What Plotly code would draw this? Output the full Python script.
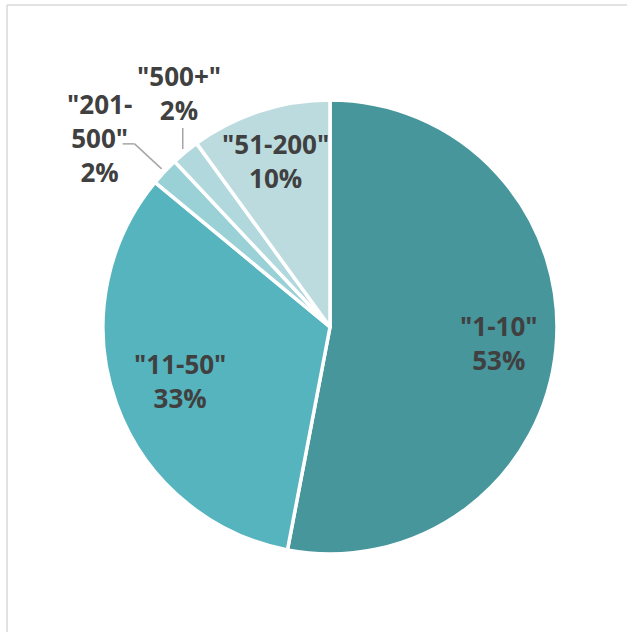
import math
import plotly.graph_objects as go

# Company size distribution
categories = ['"1-10"', '"11-50"', '"201-500"', '"500+"', '"51-200"']
shares = [53, 33, 2, 2, 10]
colors = ["#46969C", "#56B4BE", "#9AD1D7", "#B0D8DD", "#BBDBDF"]

W, H = 627, 632
CX, CY, R = 330, 327, 227          # pie centre and radius in pixels
ML, MR, MT, MB = CX - R, W - (CX + R), CY - R, H - (CY + R)
TEXT = "#404040"
FONT = "Open Sans"
FONT_SIZE = 26


def px_to_paper(px, py):
    return (px - ML) / (2 * R), ((H - MB) - py) / (2 * R)


def point_at(angle_deg, radius):
    a = math.radians(angle_deg)
    return CX + radius * math.sin(a), CY - radius * math.cos(a)


fig = go.Figure(
    go.Pie(
        labels=categories,
        values=shares,
        sort=False,
        direction="clockwise",
        rotation=0,
        marker=dict(colors=colors, line=dict(color="white", width=3.5)),
        textinfo="none",
        hoverinfo="label+percent",
        showlegend=False,
    )
)

total = sum(shares)
mid_angles = []
acc = 0
for v in shares:
    mid_angles.append((acc + v / 2) / total * 360)
    acc += v

annotations = []
shapes = []


def add_label(text, px, py):
    x, y = px_to_paper(px, py)
    annotations.append(dict(
        x=x, y=y, xref="paper", yref="paper", text=f"<b>{text}</b>",
        showarrow=False, xanchor="center", yanchor="middle",
        font=dict(family=FONT, size=FONT_SIZE, color=TEXT), align="center",
    ))


def add_line(p0, p1):
    x0, y0 = px_to_paper(*p0)
    x1, y1 = px_to_paper(*p1)
    shapes.append(dict(type="line", xref="paper", yref="paper",
                       x0=x0, y0=y0, x1=x1, y1=y1,
                       line=dict(color="#A6A6A6", width=1.5)))


inside_radius = {0: 0.75, 1: 0.70, 4: 0.77}
for i, (cat, v) in enumerate(zip(categories, shares)):
    pct = f"{round(v / total * 100)}%"
    if i in inside_radius:
        px, py = point_at(mid_angles[i], inside_radius[i] * R)
        add_label(f"{cat}<br>{pct}", px, py)

# "201-500": label to the upper left with an elbow leader
i = 2
start = point_at(mid_angles[i], R + 4)
elbow = (start[0] - 27, start[1] - 25)
add_line(start, elbow)
add_line(elbow, (elbow[0] - 12, elbow[1]))
add_label('"201-<br>500"<br>2%', 99, 138)

# "500+": label above with a short vertical leader
i = 3
start = point_at(mid_angles[i], R + 4)
add_line(start, (start[0], start[1] - 21))
add_label(f"{categories[i]}<br>{round(shares[i] / total * 100)}%", 179, 93)

# light frame along the top and left edges
shapes.append(dict(type="line", xref="paper", yref="paper",
                   x0=px_to_paper(7, 5)[0], y0=px_to_paper(7, 5)[1],
                   x1=px_to_paper(W + 5, 5)[0], y1=px_to_paper(W + 5, 5)[1],
                   line=dict(color="#D9D9D9", width=1.5)))
shapes.append(dict(type="line", xref="paper", yref="paper",
                   x0=px_to_paper(7, 5)[0], y0=px_to_paper(7, 5)[1],
                   x1=px_to_paper(7, H + 5)[0], y1=px_to_paper(7, H + 5)[1],
                   line=dict(color="#D9D9D9", width=1.5)))

fig.update_layout(
    width=W, height=H,
    margin=dict(l=ML, r=MR, t=MT, b=MB, autoexpand=False),
    paper_bgcolor="white", plot_bgcolor="white",
    annotations=annotations, shapes=shapes,
)

fig.write_html("out.html")
